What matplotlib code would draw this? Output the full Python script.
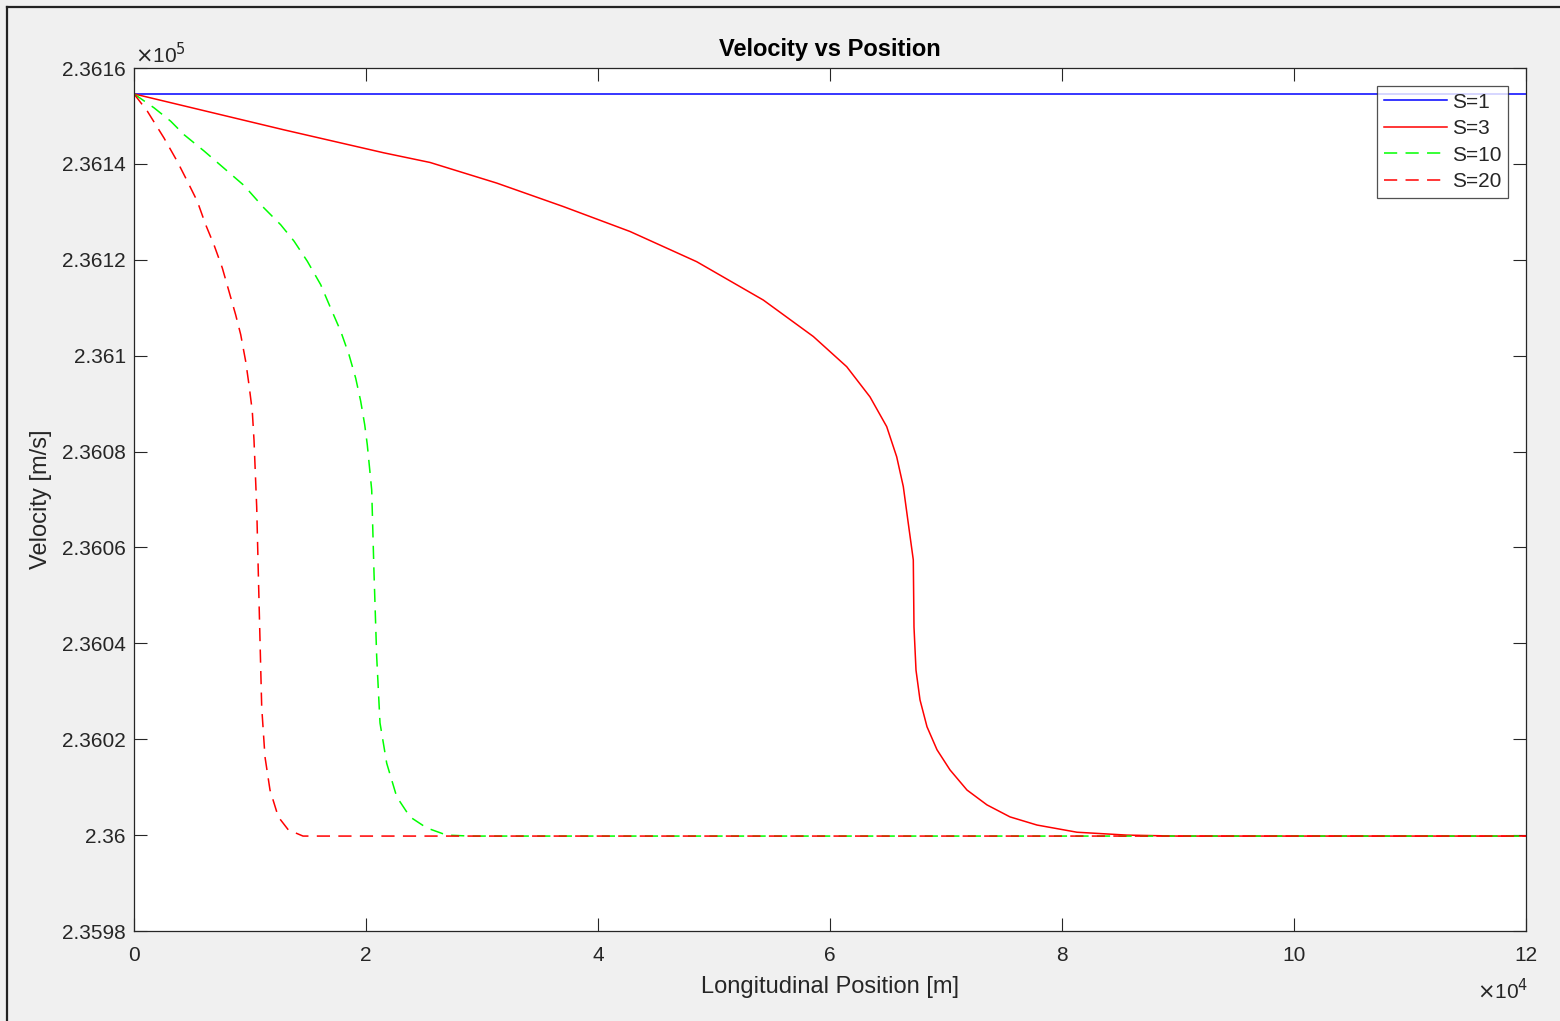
import matplotlib.pyplot as plt
from matplotlib.lines import Line2D
from matplotlib.ticker import FuncFormatter

plt.rcParams['font.family'] = ['Liberation Sans', 'DejaVu Sans']
plt.rcParams['lines.scale_dashes'] = False

# Datos (posicion en m, velocidad en m/s)
x_s1 = [0, 120000]
v_s1 = [236154.6, 236154.6]

x_s3 = [0, 4310, 8621, 12931, 17241, 21552, 25517, 31267, 37009, 42759, 48509,
        54250, 58560, 61440, 63448, 64888, 65750, 66319, 66750, 67181, 67241,
        67414, 67759, 68362, 69224, 70345, 71810, 73534, 75517, 77845, 81293,
        85603, 89914, 120000]
v_s3 = [236154.6, 236152.1, 236149.6, 236147.1, 236144.7, 236142.3, 236140.3,
        236136.0, 236131.1, 236125.9, 236119.6, 236111.6, 236104.0, 236097.7,
        236091.4, 236085.2, 236078.9, 236072.7, 236065.0, 236057.4, 236043.4,
        236034.4, 236028.2, 236022.6, 236017.8, 236013.6, 236009.4, 236006.3,
        236003.8, 236002.1, 236000.6, 236000.0, 235999.8, 235999.8]

x_s10 = [0, 1724, 3164, 4310, 6034, 7759, 9483, 11207, 12647, 13793, 14940,
         16095, 16957, 17819, 18534, 19112, 19543, 19888, 20112, 20491, 20690,
         20922, 21207, 21784, 22647, 23793, 25233, 26957, 28966, 120000]
v_s10 = [236154.6, 236151.7, 236148.9, 236146.1, 236142.7, 236139.1, 236135.5,
         236130.8, 236127.3, 236123.9, 236119.7, 236114.8, 236109.9, 236105.1,
         236100.2, 236095.3, 236090.5, 236085.6, 236081.4, 236072.0, 236054.7,
         236037.2, 236023.4, 236015.0, 236008.0, 236003.8, 236001.5, 236000.0,
         235999.8, 235999.8]

x_s20 = [0, 1147, 2586, 3733, 4595, 5457, 6181, 6897, 7612, 8190, 8767, 9198,
         9629, 9914, 10198, 10345, 10578, 10716, 10862, 11009, 11293, 11724,
         12440, 13302, 14569, 15750, 120000]
v_s20 = [236154.6, 236151.0, 236145.4, 236140.5, 236136.4, 236132.2, 236127.3,
         236123.1, 236118.3, 236113.4, 236108.5, 236104.4, 236098.8, 236093.9,
         236088.4, 236082.4, 236068.4, 236054.7, 236040.7, 236026.7, 236016.3,
         236009.4, 236003.8, 236001.1, 235999.8, 235999.8, 235999.8]

W, H = 1560, 1021
fig = plt.figure(figsize=(W / 100, H / 100), dpi=100, facecolor='#f0f0f0')
ax = fig.add_axes([134 / W, 1 - 931 / H, (1526 - 134) / W, (931 - 68) / H])
ax.set_facecolor('white')

dash = (0, (9.5, 6))
ax.plot(x_s1, v_s1, color='#0000ff', lw=1.1, label='S=1')
ax.plot(x_s3, v_s3, color='#ff0000', lw=1.1, label='S=3')
ax.plot(x_s10, v_s10, color='#00ff00', lw=1.1, linestyle=dash, label='S=10')
ax.plot(x_s20, v_s20, color='#ff0000', lw=1.1, linestyle=dash, label='S=20')

ax.set_xlim(0, 120000)
ax.set_ylim(235980, 236160)
ax.set_xticks([0, 20000, 40000, 60000, 80000, 100000, 120000])
ax.set_yticks([235980 + 20 * k for k in range(10)])
ax.xaxis.set_major_formatter(FuncFormatter(lambda v, p: '%g' % (v / 1e4)))
ax.yaxis.set_major_formatter(FuncFormatter(lambda v, p: '%g' % round(v / 1e5, 6)))

ax.tick_params(direction='in', length=9.5, width=0.8, colors='#262626',
               labelsize=15, top=True, right=True, pad=6)
ax.tick_params(axis='x', pad=10.5)
for s in ax.spines.values():
    s.set_color('#262626')
    s.set_linewidth(0.9)

ax.set_title('Velocity vs Position', fontsize=17, fontweight='bold', pad=9)
ax.set_xlabel('Longitudinal Position [m]', fontsize=17, color='#262626', labelpad=8)
ax.set_ylabel('Velocity [m/s]', fontsize=17, color='#262626', labelpad=7)

# multiplicadores estilo MATLAB
fig.text(135 / W, 1 - 55 / H, r'$\times$10$^5$', fontsize=15, color='#262626', va='center')
fig.text(1528 / W, 1 - 991 / H, r'$\times$10$^4$', fontsize=15, color='#262626',
         va='center', ha='right')

leg = ax.legend(loc='upper right', bbox_to_anchor=(1508 / W, 1 - 86 / H),
                bbox_transform=fig.transFigure, borderaxespad=0, fancybox=False,
                edgecolor='#262626', fontsize=15, handlelength=3.0, handletextpad=0.25,
                labelspacing=0.36, borderpad=0.32)
leg.get_frame().set_linewidth(0.9)
for t in leg.get_texts():
    t.set_color('#262626')

# marco de la captura
fig.add_artist(Line2D([7 / W, 7 / W], [0, 1 - 7 / H], color='#222222', lw=1.6))
fig.add_artist(Line2D([7 / W, 1], [1 - 7 / H, 1 - 7 / H], color='#222222', lw=1.6))

plt.savefig('out.png', dpi=100, facecolor=fig.get_facecolor())
plt.close()
